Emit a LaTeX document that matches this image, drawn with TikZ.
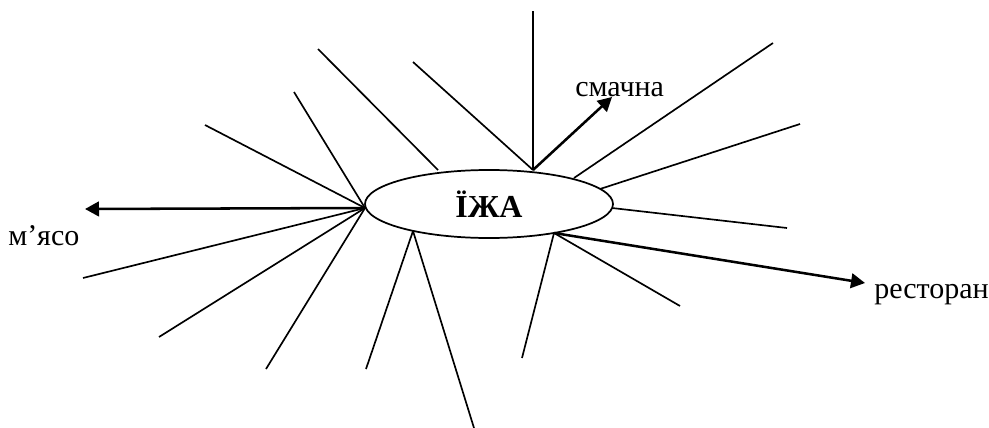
\documentclass[tikz,border=0pt]{standalone}
\usepackage{fontspec}
\setmainfont{Liberation Serif}
\usetikzlibrary{shapes.geometric,arrows.meta}
\begin{document}
\begin{tikzpicture}[x=0.75pt,y=-0.75pt,
  spoke/.style={line width=1.25pt},
  arrowline/.style={line width=1.9pt,-{Triangle[length=10.5pt,width=11pt]}},
  lbl/.style={inner sep=0pt,font=\fontsize{22.5}{25}\selectfont},
  oval/.style={ellipse,draw,line width=1.3pt,minimum width=186pt,minimum height=51pt,inner sep=0pt,font=\fontsize{24}{26}\selectfont\bfseries}]
\useasboundingbox (0,0) rectangle (989,428);
\node[oval] (e) at (489,204) {ЇЖА};
% hubs on the ellipse
\coordinate (hl) at (365,208);
\coordinate (ht) at (533,170);
\coordinate (hr) at (554,233);
\coordinate (hb) at (413,231);
\coordinate (htl) at (438,170);
\coordinate (htr1) at (574,178);
\coordinate (htr2) at (600,189);
\coordinate (hre) at (612,208);
% free ends
\coordinate (l1) at (205,125);
\coordinate (l2) at (294,92);
\coordinate (l3) at (83,278);
\coordinate (l4) at (159,337);
\coordinate (l5) at (266,369);
\coordinate (t0) at (318,49);
\coordinate (t1) at (533,11);
\coordinate (t2) at (413,62);
\coordinate (r1) at (773,43);
\coordinate (r2) at (800,124);
\coordinate (r3) at (787,228);
\coordinate (b1) at (680,306);
\coordinate (b2) at (522,358);
\coordinate (b3) at (366,369);
\coordinate (b4) at (474,428);
% labels
\node[lbl,anchor=base west] (meat) at (8,245) {м’ясо};
\node[lbl,anchor=base west] (tasty) at (575,97) {смачна};
\node[lbl,anchor=base west] (rest) at (874,298) {ресторан};
\coordinate (meattip) at (85,209);
\coordinate (tastytip) at (612,97);
\coordinate (resttip) at (865,283);
% spokes
\draw[spoke] (hl) -- (l1);
\draw[spoke] (hl) -- (l2);
\draw[spoke] (hl) -- (l3);
\draw[spoke] (hl) -- (l4);
\draw[spoke] (hl) -- (l5);
\draw[spoke] (htl) -- (t0);
\draw[spoke] (ht) -- (t1);
\draw[spoke] (ht) -- (t2);
\draw[spoke] (htr1) -- (r1);
\draw[spoke] (htr2) -- (r2);
\draw[spoke] (hre) -- (r3);
\draw[spoke] (hr) -- (b1);
\draw[spoke] (hr) -- (b2);
\draw[spoke] (hb) -- (b3);
\draw[spoke] (hb) -- (b4);
% arrows
\draw[arrowline] (hl) -- (meattip);
\draw[arrowline] (ht) -- (tastytip);
\draw[arrowline] (hr) -- (resttip);
\end{tikzpicture}
\end{document}
